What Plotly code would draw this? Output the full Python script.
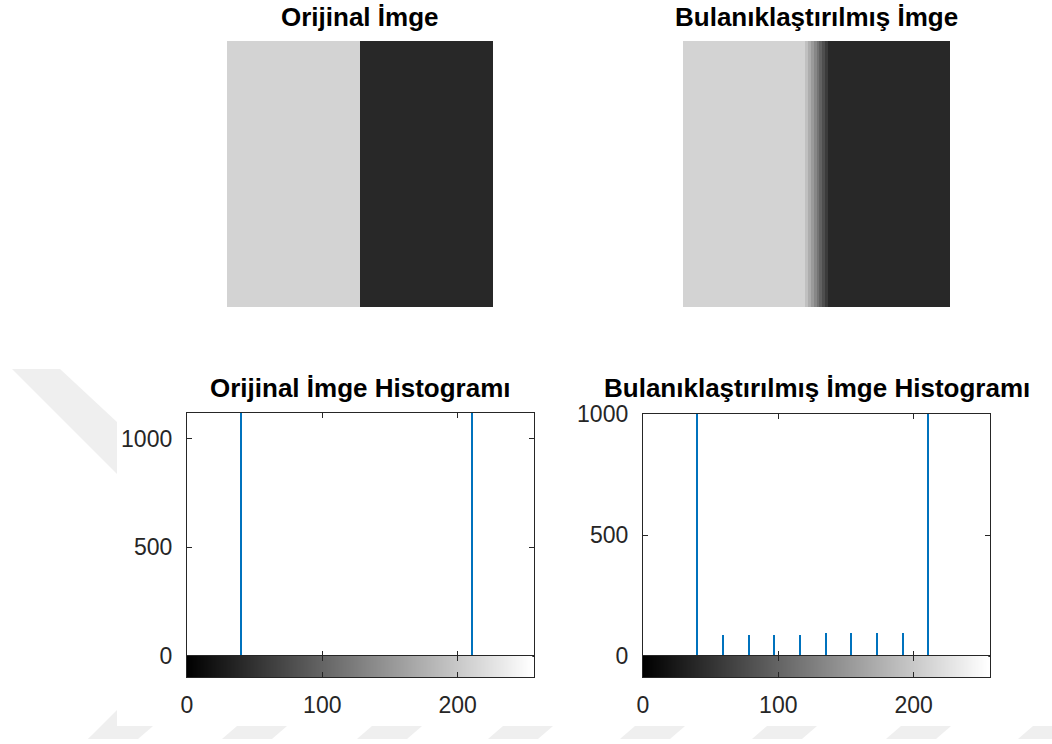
import numpy as np
import plotly.graph_objects as go

W, H = 1052, 744

# Gray levels of the two test images (column profiles, 0-255)
orijinal_acik_kolon = [211] * 48
orijinal_koyu_kolon = [40] * 48
bulanik_gecis = [192, 173, 154, 135, 116, 97, 78, 59]
bulanik_acik_kolon = [211] * 44
bulanik_koyu_kolon = [40] * 44
satir_sayisi = 96

# Histogram values (gray level, pixel count)
orijinal_seviyeler = [40, 211]
orijinal_sayilar = [4608, 4608]
bulanik_seviyeler = [40, 59, 78, 97, 116, 135, 154, 173, 192, 211]
bulanik_sayilar = [4224, 86, 86, 86, 86, 93, 93, 93, 93, 4224]

x_ticks = [0, 100, 200]
y_ticks = [0, 500, 1000]
basliklar = ["Orijinal İmge", "Bulanıklaştırılmış İmge",
             "Orijinal İmge Histogramı", "Bulanıklaştırılmış İmge Histogramı"]

orijinal_profil = orijinal_acik_kolon + orijinal_koyu_kolon
bulanik_profil = bulanik_acik_kolon + bulanik_gecis + bulanik_koyu_kolon
orijinal_img = np.array([orijinal_profil] * satir_sayisi)
bulanik_img = np.array([bulanik_profil] * satir_sayisi)
gri_rampa = np.arange(256)

AX = "#262626"
BLUE = "#0072BD"
GRAY = [[0, "black"], [1, "white"]]
FONT = "Liberation Sans, Arial, Helvetica, sans-serif"


def dx(a, b):
    return [a / W, b / W]


def dy(top, bottom):
    return [1 - bottom / H, 1 - top / H]


fig = go.Figure()

# top images
fig.add_trace(go.Heatmap(z=orijinal_img, colorscale=GRAY, zmin=0, zmax=255,
                         showscale=False, xaxis="x", yaxis="y", hoverinfo="skip"))
fig.add_trace(go.Heatmap(z=bulanik_img, colorscale=GRAY, zmin=0, zmax=255,
                         showscale=False, xaxis="x2", yaxis="y2", hoverinfo="skip"))

# histograms
fig.add_trace(go.Bar(x=orijinal_seviyeler, y=orijinal_sayilar, width=1.5,
                     marker=dict(color=BLUE, line=dict(width=0)),
                     xaxis="x3", yaxis="y3", showlegend=False))
fig.add_trace(go.Bar(x=bulanik_seviyeler, y=bulanik_sayilar, width=1.5,
                     marker=dict(color=BLUE, line=dict(width=0)),
                     xaxis="x5", yaxis="y5", showlegend=False))

# gray ramp strips under the histograms
for xa, ya in (("x4", "y4"), ("x6", "y6")):
    fig.add_trace(go.Heatmap(z=[gri_rampa], x=gri_rampa, colorscale=GRAY,
                             zmin=0, zmax=255, showscale=False,
                             xaxis=xa, yaxis=ya, hoverinfo="skip"))

hidden = dict(visible=False, showgrid=False, zeroline=False, automargin=False)

layout = dict(
    template="none",
    width=W, height=H, autosize=False,
    margin=dict(l=0, r=0, t=0, b=0, pad=0, autoexpand=False),
    paper_bgcolor="white", plot_bgcolor="white",
    font=dict(family=FONT, color=AX),
    showlegend=False,
    bargap=0,
)

layout["xaxis"] = dict(hidden, domain=dx(227, 493), range=[-0.5, 95.5])
layout["yaxis"] = dict(hidden, domain=dy(41, 307), range=[-0.5, 95.5])
layout["xaxis2"] = dict(hidden, domain=dx(683, 950), range=[-0.5, 95.5])
layout["yaxis2"] = dict(hidden, domain=dy(41, 307), range=[-0.5, 95.5])

box = dict(showline=True, linecolor=AX, linewidth=1.3, mirror="allticks",
           ticks="inside", ticklen=5, tickcolor=AX, tickwidth=1,
           showgrid=False, zeroline=False, automargin=False)


def hist_axes(xn, yn, xdom, ydom, ytop):
    layout[xn] = dict(box, domain=xdom, range=[0, 256.5], tickvals=x_ticks,
                      showticklabels=False)
    layout[yn] = dict(box, domain=ydom, range=[0, ytop], tickvals=y_ticks,
                      tickfont=dict(size=23, color=AX), ticklabelstandoff=9)


def strip_axes(xn, yn, xdom, ydom, anchor):
    layout[xn] = dict(box, domain=xdom, range=[0, 256.5], tickvals=x_ticks,
                      tickfont=dict(size=23, color=AX), ticklabelstandoff=7,
                      anchor=anchor)
    layout[yn] = dict(box, domain=ydom, range=[-0.5, 0.5], tickvals=[],
                      anchor=xn.replace("axis", ""))


hist_axes("xaxis3", "yaxis3", dx(187, 534), dy(413, 656), 1118)
strip_axes("xaxis4", "yaxis4", dx(187, 534), dy(656, 677), "y4")
hist_axes("xaxis5", "yaxis5", dx(643, 990), dy(414, 656), 1000)
strip_axes("xaxis6", "yaxis6", dx(643, 990), dy(656, 677), "y6")
for i in (3, 5):
    layout[f"xaxis{i}"]["anchor"] = f"y{i}"
    layout[f"yaxis{i}"]["anchor"] = f"x{i}"

# titles
title_pos = [(360, 34), (816.5, 34), (360.5, 405), (816.5, 405)]
annotations = []
for txt, (cx, by) in zip(basliklar, title_pos):
    annotations.append(dict(text=f"<b>{txt}</b>", x=cx / W, y=1 - by / H,
                            xref="paper", yref="paper", xanchor="center",
                            yanchor="bottom", showarrow=False,
                            font=dict(family=FONT, size=26, color="black")))
layout["annotations"] = annotations


# faint page watermark around the figure area
def poly(pts):
    path = "M " + " L ".join(f"{x / W},{1 - y / H}" for x, y in pts) + " Z"
    return dict(type="path", path=path, xref="paper", yref="paper",
                fillcolor="#efefef", line=dict(width=0), layer="below")


shapes = [poly([(12, 369), (60, 369), (118, 423), (118, 475)])]
for x0 in (88, 222, 357, 488, 620, 752, 886, 1018):
    shapes.append(poly([(x0, 739), (x0 + 50, 739), (x0 + 65, 726), (x0 + 15, 726)]))
shapes.append(poly([(88, 739), (117, 710), (117, 739)]))
shapes.append(dict(type="rect", xref="paper", yref="paper",
                   x0=117 / W, x1=1, y0=1 - 726 / H, y1=1,
                   fillcolor="white", line=dict(width=0), layer="below"))
layout["shapes"] = shapes

fig.update_layout(**layout)
fig.write_html("out.html")
